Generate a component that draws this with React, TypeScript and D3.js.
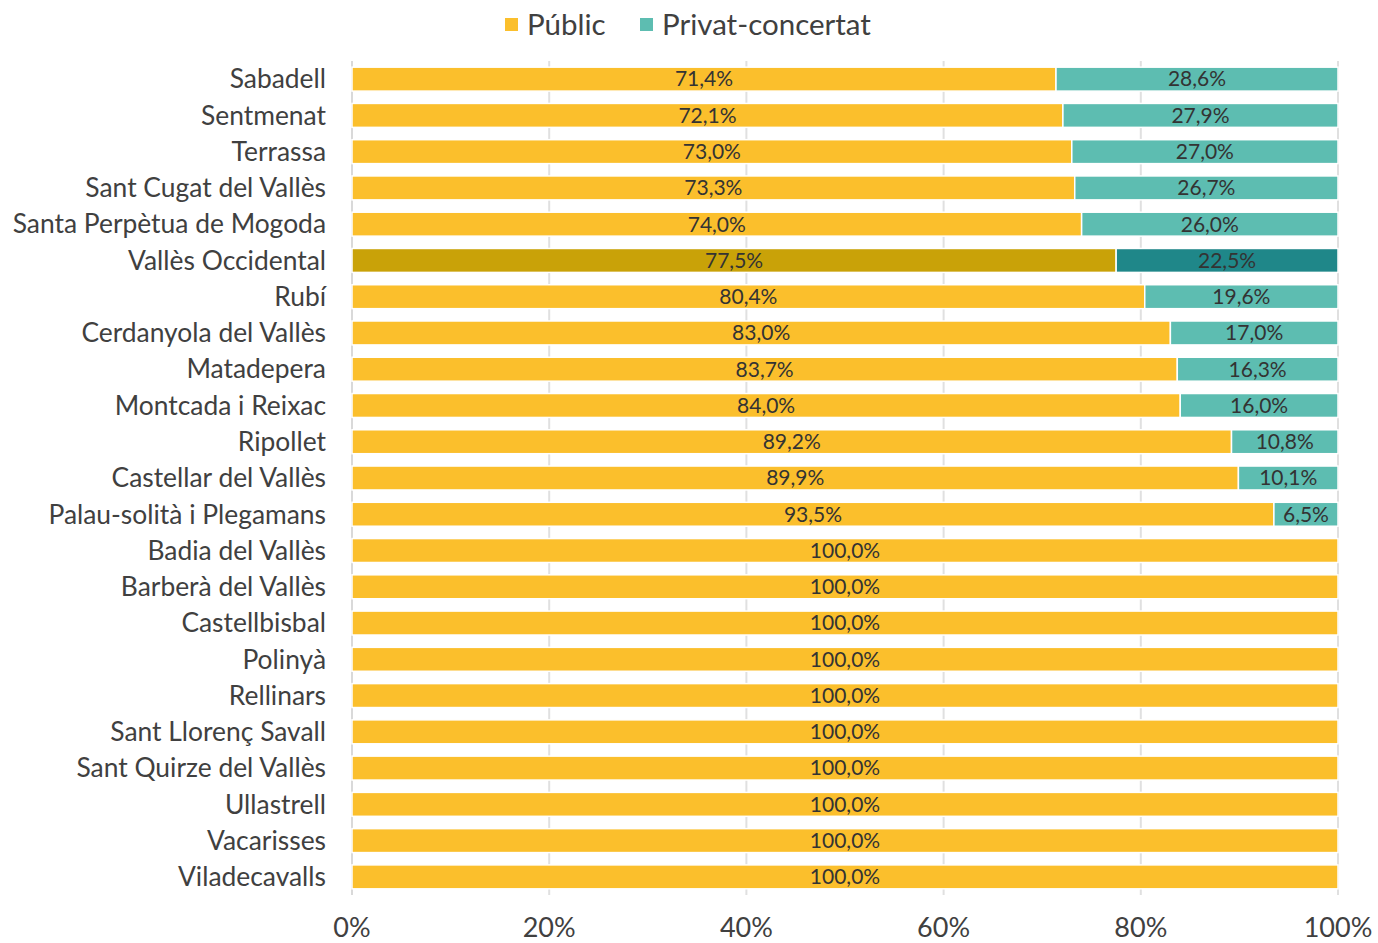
import React from "react";
import * as d3 from "d3";

const categories = [
  "Sabadell", "Sentmenat", "Terrassa", "Sant Cugat del Vallès", "Santa Perpètua de Mogoda",
  "Vallès Occidental", "Rubí", "Cerdanyola del Vallès", "Matadepera", "Montcada i Reixac",
  "Ripollet", "Castellar del Vallès", "Palau-solità i Plegamans", "Badia del Vallès",
  "Barberà del Vallès", "Castellbisbal", "Polinyà", "Rellinars", "Sant Llorenç Savall",
  "Sant Quirze del Vallès", "Ullastrell", "Vacarisses", "Viladecavalls",
];
const publicValues = [71.4, 72.1, 73.0, 73.3, 74.0, 77.5, 80.4, 83.0, 83.7, 84.0, 89.2, 89.9, 93.5, 100, 100, 100, 100, 100, 100, 100, 100, 100, 100];
const privateValues = [28.6, 27.9, 27.0, 26.7, 26.0, 22.5, 19.6, 17.0, 16.3, 16.0, 10.8, 10.1, 6.5, 0, 0, 0, 0, 0, 0, 0, 0, 0, 0];
const seriesNames = ["Públic", "Privat-concertat"];
const ticks = [0, 20, 40, 60, 80, 100];
const highlight = "Vallès Occidental";

const COL_PUB = "#FBBF2C";
const COL_PRIV = "#5DBDB1";
const COL_PUB_H = "#C9A208";
const COL_PRIV_H = "#1F8789";
const FONT = "Lato, 'Open Sans', sans-serif";

const fmt = (v: number) => v.toFixed(1).replace(".", ",") + "%";

export default function App() {
  const W = 1378, H = 943;
  const x = d3.scaleLinear().domain([0, 100]).range([352, 1338]);
  const y = d3.scaleBand().domain(categories).range([61, 895]).paddingInner(0.34).paddingOuter(0.17);
  const bh = y.bandwidth();
  return (
    <svg width={W} height={H} style={{ position: "absolute", left: 0, top: 0, background: "#fff" }} fontFamily={FONT}>
      {/* gridlines */}
      {ticks.map((t) => (
        <line key={"g" + t} x1={x(t)} x2={x(t)} y1={61} y2={895} stroke={t === 0 ? "#d9d9d9" : "#e0e0e0"} strokeWidth={2} />
      ))}
      {/* bars */}
      {categories.map((c, i) => {
        const yy = y(c)!;
        const hl = c === highlight;
        const p = publicValues[i];
        const q = privateValues[i];
        return (
          <g key={c}>
            <rect x={x(0)} y={yy} width={x(p) - x(0)} height={bh} fill={hl ? COL_PUB_H : COL_PUB} stroke="#fff" strokeWidth={1.5} />
            {q > 0 && (
              <rect x={x(p)} y={yy} width={x(p + q) - x(p)} height={bh} fill={hl ? COL_PRIV_H : COL_PRIV} stroke="#fff" strokeWidth={1.5} />
            )}
            <text x={x(p / 2)} y={yy + bh / 2} dy="0.35em" textAnchor="middle" fontSize={21} fill="#333">{fmt(p)}</text>
            {q > 0 && (
              <text x={x(p + q / 2)} y={yy + bh / 2} dy="0.35em" textAnchor="middle" fontSize={21} fill="#333">{fmt(q)}</text>
            )}
            <text x={326} y={yy + bh / 2} dy="0.35em" textAnchor="end" fontSize={26.4} fill="#404040">{c}</text>
          </g>
        );
      })}
      {/* x tick labels */}
      {ticks.map((t) => (
        <text key={"t" + t} x={x(t)} y={928} dy="0.35em" textAnchor="middle" fontSize={27} fill="#404040">{t + "%"}</text>
      ))}
      {/* legend */}
      <rect x={505} y={18} width={13} height={13} fill={COL_PUB} />
      <text x={527} y={25} dy="0.35em" fontSize={29.5} fill="#404040">{seriesNames[0]}</text>
      <rect x={640} y={18} width={13} height={13} fill={COL_PRIV} />
      <text x={662} y={25} dy="0.35em" fontSize={29.5} fill="#404040">{seriesNames[1]}</text>
    </svg>
  );
}
